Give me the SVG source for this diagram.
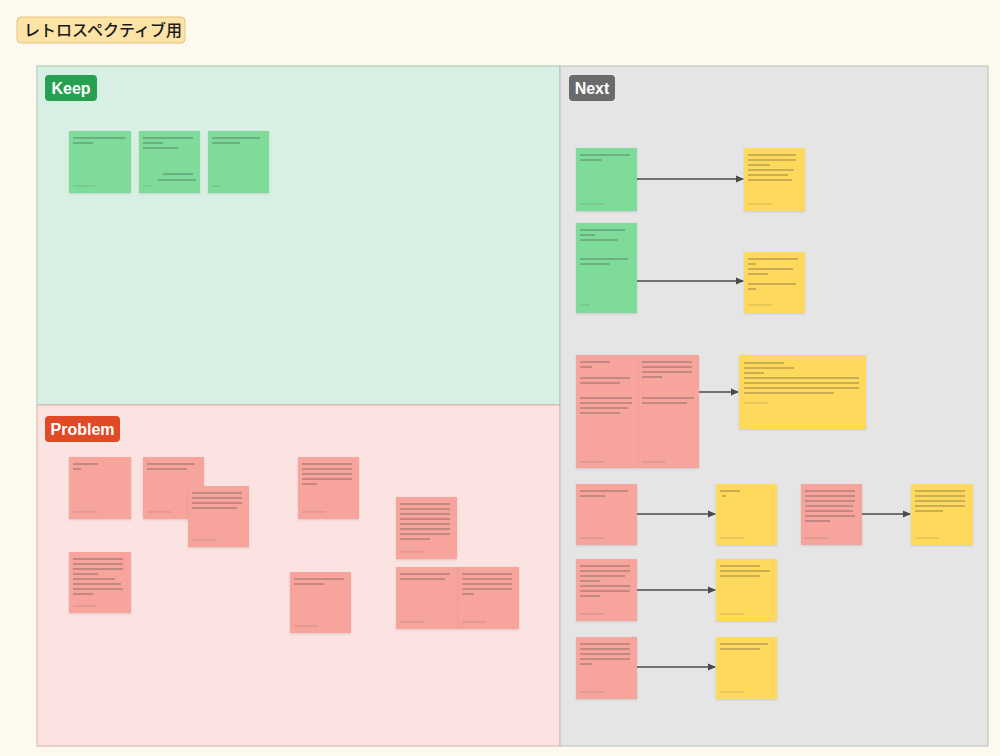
<svg xmlns="http://www.w3.org/2000/svg" width="1000" height="756" viewBox="0 0 1000 756">
<defs>
<style>
.frame-keep{fill:#d8f0e3;stroke:#a9c7b4;stroke-width:1}
.frame-prob{fill:#fbe3e2;stroke:#d4b1ab;stroke-width:1}
.frame-next{fill:#e5e5e5;stroke:#bdbdbd;stroke-width:1}
.lbl{font-family:"Liberation Sans",Arial,sans-serif;font-weight:bold;font-size:16px;fill:#ffffff}
.title{font-family:"Noto Sans CJK JP","Noto Sans",sans-serif;font-size:16px;font-weight:500;fill:#1a1a1a}
.g{fill:#7fdb9a;filter:url(#sh)}
.p{fill:#f7a59c;filter:url(#sh)}
.y{fill:#ffd95c;filter:url(#sh)}
.tx{fill:none;stroke:#444;stroke-width:1.3;opacity:.38}
.ft{fill:none;stroke:#666;stroke-width:1;opacity:.3}
.dv{fill:none;stroke:#e6948b;stroke-width:1;opacity:.5}
.conn{fill:none;stroke:#4a4a4a;stroke-width:1.5;marker-end:url(#ah)}
</style>
<filter id="sh" x="-10%" y="-10%" width="130%" height="130%">
<feDropShadow dx="0" dy="1" stdDeviation="1" flood-color="#000" flood-opacity="0.12"/>
</filter>
<marker id="ah" markerWidth="8" markerHeight="8" refX="7" refY="4" orient="auto" markerUnits="userSpaceOnUse">
<path d="M0,0.5 L8,4 L0,7.5 z" fill="#4a4a4a"/>
</marker>
</defs>
<rect x="0" y="0" width="1000" height="756" fill="#fdf9ee"/>
<g id="title">
<rect x="17" y="17" width="168" height="26" rx="4" fill="#fde3a6" stroke="#e6c27a"/>
<text x="24" y="36" class="title">レトロスペクティブ用</text>
</g>
<g id="frame-keep">
<rect x="37" y="66" width="523" height="339" class="frame-keep"/>
<rect x="45" y="75" width="52" height="26" rx="4" fill="#27a050"/>
<text x="71" y="94" class="lbl" text-anchor="middle">Keep</text>
</g>
<g id="frame-problem">
<rect x="37" y="405" width="523" height="341" class="frame-prob"/>
<rect x="45" y="416" width="75" height="26" rx="4" fill="#e04a26"/>
<text x="82.5" y="435" class="lbl" text-anchor="middle">Problem</text>
</g>
<g id="frame-next">
<rect x="560" y="66" width="428" height="680" class="frame-next"/>
<rect x="569" y="75" width="46" height="26" rx="4" fill="#6a6a6a"/>
<text x="592" y="94" class="lbl" text-anchor="middle">Next</text>
</g>

<g id="keep-1"><rect x="69" y="131" width="62" height="62" class="g"/><path class="tx" d="M73 138h52M73 143h20"/><path class="ft" d="M73 186h22"/></g>
<g id="keep-2"><rect x="139" y="131" width="61" height="62" class="g"/><path class="tx" d="M143 138h50M143 143h20M143 148h35M163 174h30M158 180h38"/><path class="ft" d="M143 186h8"/></g>
<g id="keep-3"><rect x="208" y="131" width="61" height="62" class="g"/><path class="tx" d="M212 138h48M212 143h28"/><path class="ft" d="M212 186h8"/></g>

<g id="prob-1"><rect x="69" y="457" width="62" height="62" class="p"/><path class="tx" d="M73 464h25M73 469h8"/><path class="ft" d="M73 512h24"/></g>
<g id="prob-2"><rect x="143" y="457" width="61" height="62" class="p"/><path class="tx" d="M147 464h48M147 469h40"/><path class="ft" d="M147 512h24"/></g>
<g id="prob-3"><rect x="188" y="486" width="61" height="61" class="p"/><path class="tx" d="M192 493h50M192 498h50M192 503h50M192 508h45"/><path class="ft" d="M192 540h24"/></g>
<g id="prob-4"><rect x="69" y="552" width="62" height="61" class="p"/><path class="tx" d="M73 559h50M73 564h50M73 569h50M73 574h25M73 579h42M73 584h48M73 589h50M73 594h20"/><path class="ft" d="M73 606h24"/></g>
<g id="prob-5"><rect x="298" y="457" width="61" height="62" class="p"/><path class="tx" d="M302 464h50M302 469h50M302 474h50M302 479h50M302 484h15"/><path class="ft" d="M302 512h24"/></g>
<g id="prob-6"><rect x="396" y="497" width="61" height="62" class="p"/><path class="tx" d="M400 504h50M400 509h50M400 514h50M400 519h50M400 524h50M400 529h50M400 534h50M400 539h30"/><path class="ft" d="M400 552h24"/></g>
<g id="prob-7"><rect x="290" y="572" width="61" height="61" class="p"/><path class="tx" d="M294 579h50M294 584h30"/><path class="ft" d="M294 626h24"/></g>
<g id="prob-8"><rect x="396" y="567" width="123" height="62" class="p"/><path class="dv" d="M458 567v62"/><path class="tx" d="M400 574h50M400 579h45M462 574h50M462 579h50M462 584h50M462 589h50M462 594h12"/><path class="ft" d="M400 622h24M462 622h24"/></g>

<g id="next-g1"><rect x="576" y="148" width="61" height="63" class="g"/><path class="tx" d="M580 155h50M580 160h22"/><path class="ft" d="M580 204h24"/></g>
<g id="next-y1"><rect x="744" y="148" width="61" height="63" class="y"/><path class="tx" d="M748 155h48M748 160h48M748 165h22M748 170h46M748 175h40M748 180h44"/><path class="ft" d="M748 204h24"/></g>
<g id="next-g2"><rect x="576" y="223" width="61" height="90" class="g"/><path class="tx" d="M580 230h45M580 235h15M580 240h38M580 259h48M580 264h30"/><path class="ft" d="M580 305h10"/></g>
<g id="next-y2"><rect x="744" y="252" width="61" height="61" class="y"/><path class="tx" d="M748 259h50M748 264h8M748 269h45M748 274h20M748 284h48M748 289h8"/><path class="ft" d="M748 305h24"/></g>
<g id="next-pb"><rect x="576" y="355" width="123" height="113" class="p"/><path class="dv" d="M638 355v113"/><path class="tx" d="M580 362h30M580 367h12M580 378h50M580 383h40M580 398h52M580 403h52M580 408h48M580 413h40M642 362h50M642 367h50M642 372h50M642 377h20M642 398h52M642 403h45"/><path class="ft" d="M580 462h24M642 462h24"/></g>
<g id="next-yb"><rect x="739" y="355" width="127" height="74" class="y"/><path class="tx" d="M744 363h40M744 368h50M744 373h20M744 378h115M744 383h115M744 388h115M744 393h90"/><path class="ft" d="M744 403h24"/></g>
<g id="next-p1"><rect x="576" y="484" width="61" height="61" class="p"/><path class="tx" d="M580 491h48M580 496h25"/><path class="ft" d="M580 538h24"/></g>
<g id="next-y3"><rect x="716" y="484" width="61" height="61" class="y"/><path class="tx" d="M720 491h20M722 496h4"/><path class="ft" d="M720 538h24"/></g>
<g id="next-p2"><rect x="801" y="484" width="61" height="61" class="p"/><path class="tx" d="M805 491h50M805 496h50M805 501h50M805 506h48M805 511h48M805 516h50M805 521h25"/><path class="ft" d="M805 538h24"/></g>
<g id="next-y4"><rect x="911" y="484" width="62" height="61" class="y"/><path class="tx" d="M915 491h50M915 496h50M915 501h50M915 506h50M915 511h28"/><path class="ft" d="M915 538h24"/></g>
<g id="next-p3"><rect x="576" y="559" width="61" height="62" class="p"/><path class="tx" d="M580 566h50M580 571h50M580 576h45M580 581h20M580 586h50M580 591h50M580 596h20"/><path class="ft" d="M580 614h24"/></g>
<g id="next-y5"><rect x="716" y="559" width="61" height="62" class="y"/><path class="tx" d="M720 566h40M720 571h50M720 576h40"/><path class="ft" d="M720 614h24"/></g>
<g id="next-p4"><rect x="576" y="637" width="61" height="62" class="p"/><path class="tx" d="M580 644h50M580 649h50M580 654h50M580 659h50M580 664h12"/><path class="ft" d="M580 692h24"/></g>
<g id="next-y6"><rect x="716" y="637" width="61" height="62" class="y"/><path class="tx" d="M720 644h48M720 649h40"/><path class="ft" d="M720 692h24"/></g>

<g id="connectors">
<path class="conn" d="M637 179H743"/>
<path class="conn" d="M637 281H743"/>
<path class="conn" d="M699 392H738"/>
<path class="conn" d="M637 514H715"/>
<path class="conn" d="M862 514H910"/>
<path class="conn" d="M637 590H715"/>
<path class="conn" d="M637 667H715"/>
</g>
</svg>
